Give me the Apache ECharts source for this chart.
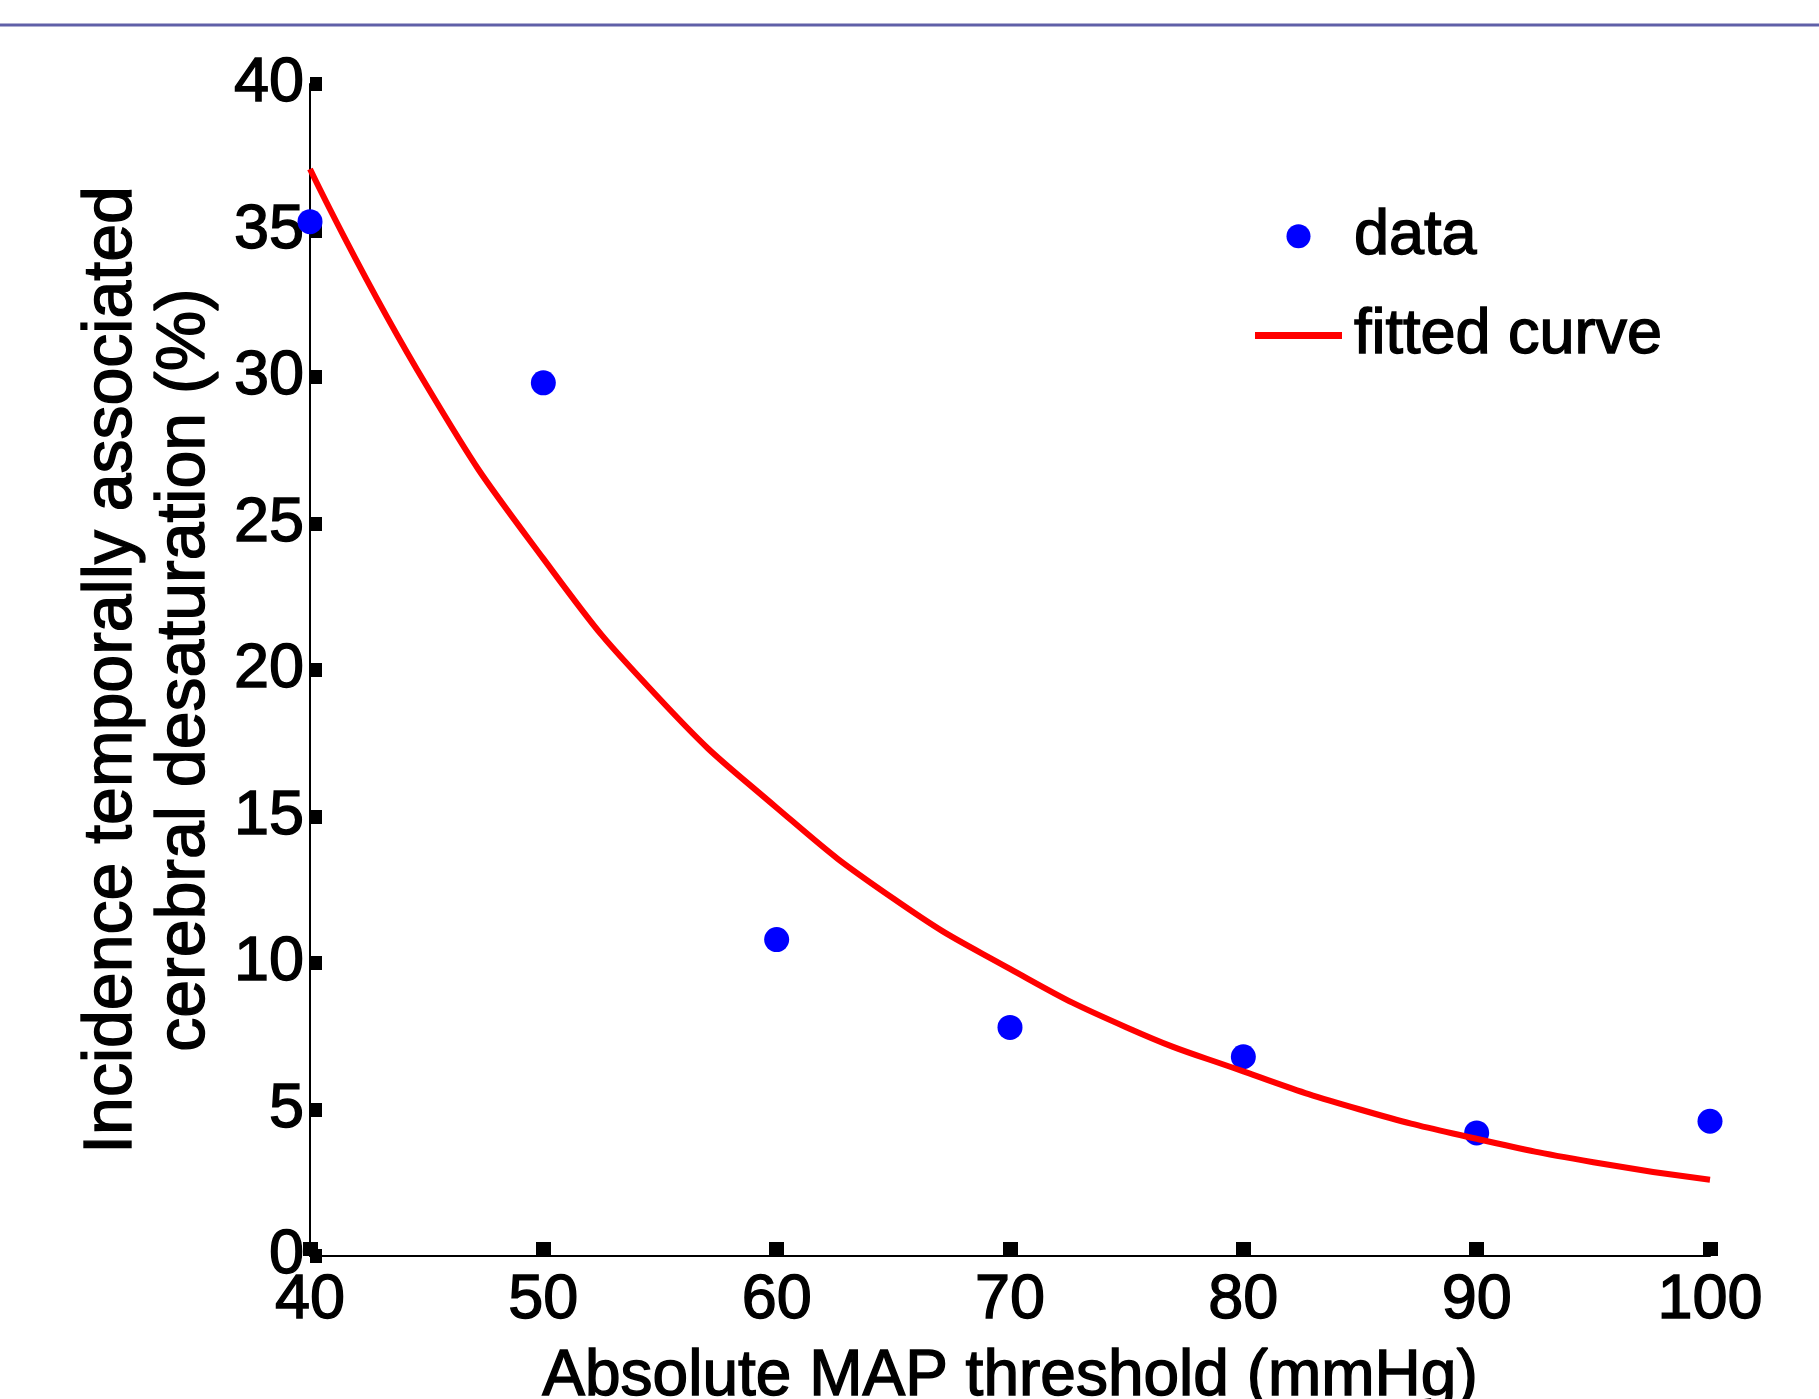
<!DOCTYPE html>
<html>
<head>
<meta charset="utf-8">
<script src="https://cdn.jsdelivr.net/npm/echarts@6/dist/echarts.min.js"></script>
<style>
html,body{margin:0;padding:0;background:#fff;}
#chart{width:1819px;height:1399px;}
</style>
</head>
<body>
<div id="chart"></div>
<script>
// measured incidence at each MAP threshold
var mapThreshold = [40, 50, 60, 70, 80, 90, 100];
var incidence = [35.3, 29.8, 10.8, 7.8, 6.8, 4.2, 4.6];
// fitted curve every 5 mmHg
var fitX = [40, 45, 50, 55, 60, 65, 70, 75, 80, 85, 90, 95, 100];
var fitY = [37.1, 29.7, 23.8, 19.0, 15.3, 12.2, 9.8, 7.8, 6.3, 5.0, 4.0, 3.2, 2.6];

var fontFam = '"Liberation Sans", Arial, sans-serif';
// slight outline so the text looks as heavy as the original
var heavy = { textBorderColor: '#000', textBorderWidth: 1.4 };

var dataPts = [];
for (var i = 0; i < mapThreshold.length; i++) {
    dataPts.push([mapThreshold[i], incidence[i]]);
}
var fitPts = [];
for (var j = 0; j < fitX.length; j++) {
    fitPts.push([fitX[j], fitY[j]]);
}

var chart = echarts.init(document.getElementById('chart'));
chart.setOption({
    animation: false,
    backgroundColor: '#fff',
    textStyle: { fontFamily: fontFam, color: '#000' },
    graphic: [{
        type: 'line',
        shape: { x1: 0, y1: 25, x2: 1819, y2: 25 },
        style: { stroke: '#6060a8', lineWidth: 3 }
    }],
    grid: { left: 310, right: 109, top: 84, bottom: 143, containLabel: false, outerBoundsMode: 'none' },
    legend: {
        orient: 'vertical',
        left: 1255,
        top: 204,
        padding: 0,
        itemWidth: 87,
        itemHeight: 24,
        itemGap: 35,
        textStyle: Object.assign({
            fontFamily: fontFam, fontSize: 63, color: '#000',
            padding: [0, 0, 0, 7]
        }, heavy),
        data: [
            { name: 'data', icon: 'circle' },
            { name: 'fitted curve', icon: 'path://M0,0H87V7H0Z' }
        ]
    },
    xAxis: {
        type: 'value',
        min: 40, max: 100, interval: 10,
        name: 'Absolute MAP threshold (mmHg)',
        nameLocation: 'middle',
        nameGap: 89,
        nameTextStyle: Object.assign({ fontFamily: fontFam, fontSize: 64, color: '#000', lineHeight: 64 }, heavy),
        axisLine: { lineStyle: { color: '#000', width: 2 } },
        axisTick: { inside: true, length: 14, lineStyle: { color: '#000', width: 15 } },
        axisLabel: Object.assign({ margin: 13, fontFamily: fontFam, fontSize: 63, color: '#000', lineHeight: 63 }, heavy),
        splitLine: { show: false }
    },
    yAxis: {
        type: 'value',
        min: 0, max: 40, interval: 5,
        name: 'Incidence temporally associated\ncerebral desaturation (%)',
        nameLocation: 'middle',
        nameGap: 88,
        nameTextStyle: Object.assign({ fontFamily: fontFam, fontSize: 68, color: '#000', lineHeight: 73 }, heavy),
        axisLine: { show: true, lineStyle: { color: '#000', width: 2 } },
        axisTick: { show: true, inside: true, length: 12, lineStyle: { color: '#000', width: 14 } },
        axisLabel: Object.assign({ margin: 6, fontFamily: fontFam, fontSize: 63, color: '#000' }, heavy),
        splitLine: { show: false }
    },
    series: [
        {
            name: 'data',
            type: 'scatter',
            data: dataPts,
            symbol: 'circle',
            symbolSize: 25,
            itemStyle: { color: '#0000ff', opacity: 1 }
        },
        {
            name: 'fitted curve',
            type: 'line',
            data: fitPts,
            smooth: true,
            symbol: 'none',
            lineStyle: { color: '#ff0000', width: 6 },
            itemStyle: { color: '#ff0000' }
        }
    ]
});
</script>
</body>
</html>
